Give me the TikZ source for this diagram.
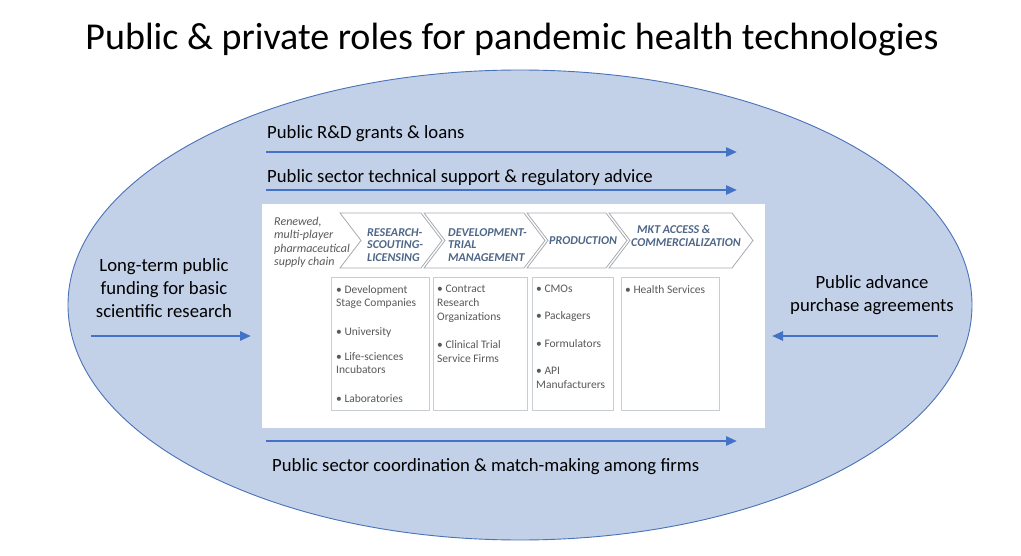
\documentclass[tikz,border=0pt]{standalone}
\usepackage{fontspec}
\setmainfont{Carlito}
\usetikzlibrary{arrows.meta}

\definecolor{ovalfill}{HTML}{C2D0E8}
\definecolor{ovalline}{HTML}{4A72B8}
\definecolor{flowblue}{HTML}{4472C4}
\definecolor{chevtext}{HTML}{4E6688}
\definecolor{chevline}{HTML}{A6AAB0}
\definecolor{boxline}{HTML}{C8CDD3}
\definecolor{greytext}{HTML}{595959}

\tikzset{
  flow/.style={draw=flowblue, line width=2.6pt, -{Triangle[length=11pt,width=9pt]}},
  label/.style={font=\fontsize{18.7}{23}\selectfont, inner sep=0pt},
  chevron/.style={draw=chevline, line width=0.8pt, fill=white},
  chevlabel/.style={font=\fontsize{12}{12.8}\selectfont\bfseries\itshape, text=chevtext, inner sep=0pt, align=left},
  listbox/.style={draw=boxline, line width=1pt},
  listtext/.style={font=\fontsize{11.5}{13.8}\selectfont, text=greytext, inner sep=0pt, align=left, anchor=north west}
}

% chevron between two x positions
\newcommand{\chev}[2]{\draw[chevron] (#1,213) -- (#2,213) -- (#2+21,240.5) -- (#2,268) -- (#1,268) -- (#1+21,240.5) -- cycle;}

\begin{document}
\begin{tikzpicture}[x=1pt,y=-1pt]
\useasboundingbox (0,0) rectangle (1021,556);

% title
\node[font=\fontsize{38}{44}\selectfont, anchor=base, inner sep=0pt] (title) at (512,50) {Public \& private roles for pandemic health technologies};

% oval
\fill[ovalfill] (520,305) ellipse [x radius=452pt, y radius=235pt];
\draw[ovalline, line width=0.9pt] (520,305) ellipse [x radius=452pt, y radius=235pt];

% top flows
\node[label, anchor=base west] (grants) at (267,139) {Public R\&D grants \& loans};
\coordinate (grants-s) at (266,152);
\coordinate (grants-e) at (737,152);
\draw[flow] (grants-s) -- (grants-e);

\node[label, anchor=base west] (support) at (267,183) {Public sector technical support \& regulatory advice};
\coordinate (support-s) at (266,190);
\coordinate (support-e) at (737,190);
\draw[flow] (support-s) -- (support-e);

% supply chain panel
\fill[white] (262,204) rectangle (765,428);

\node[font=\fontsize{12}{13.3}\selectfont\itshape, text=greytext, inner sep=0pt, align=left, anchor=north west] (chain) at (274,217) {Renewed,\\multi-player\\pharmaceutical\\supply chain};

\chev{340}{421}
\chev{424}{524}
\chev{527}{606}
\chev{609}{732}

\node[chevlabel, anchor=west] (research) at (367,245) {RESEARCH-\\SCOUTING-\\LICENSING};
\node[chevlabel, anchor=west] (develop) at (448,245) {DEVELOPMENT-\\TRIAL\\MANAGEMENT};
\node[chevlabel, anchor=west] (production) at (549,240.5) {PRODUCTION};
\node[chevlabel, anchor=west] (market) at (631,236) {\hspace{6pt}MKT ACCESS \&\\COMMERCIALIZATION};

\draw[listbox] (331,278) rectangle (429,410);
\draw[listbox] (433,278) rectangle (527,410);
\draw[listbox] (532,278) rectangle (613,410);
\draw[listbox] (621,278) rectangle (719,410);

\node[listtext] (firms) at (336,285) {• Development\\Stage Companies\\[14.5pt]• University\\[11pt]• Life-sciences\\Incubators\\[14.5pt]• Laboratories};
\node[listtext] (cros) at (437,285) {• Contract\\Research\\Organizations\\[14.5pt]• Clinical Trial\\Service Firms};
\node[listtext] (makers) at (536,285) {• CMOs\\[13.5pt]• Packagers\\[13.5pt]• Formulators\\[13.5pt]• API\\Manufacturers};
\node[listtext] (health) at (625,285) {• Health Services};

% bottom flow
\coordinate (coord-s) at (266,441);
\coordinate (coord-e) at (737,441);
\draw[flow] (coord-s) -- (coord-e);
\node[label, anchor=base west] (coord) at (272,471) {Public sector coordination \& match-making among firms};

% side flows
\node[label, align=center] (basic) at (164,288) {Long-term public\\funding for basic\\scientific research};
\coordinate (basic-s) at (91,336);
\coordinate (basic-e) at (251,336);
\draw[flow] (basic-s) -- (basic-e);

\node[label, align=center] (advance) at (872,295.5) {Public advance\\purchase agreements};
\coordinate (advance-s) at (938,336);
\coordinate (advance-e) at (772,336);
\draw[flow] (advance-s) -- (advance-e);
\end{tikzpicture}
\end{document}
